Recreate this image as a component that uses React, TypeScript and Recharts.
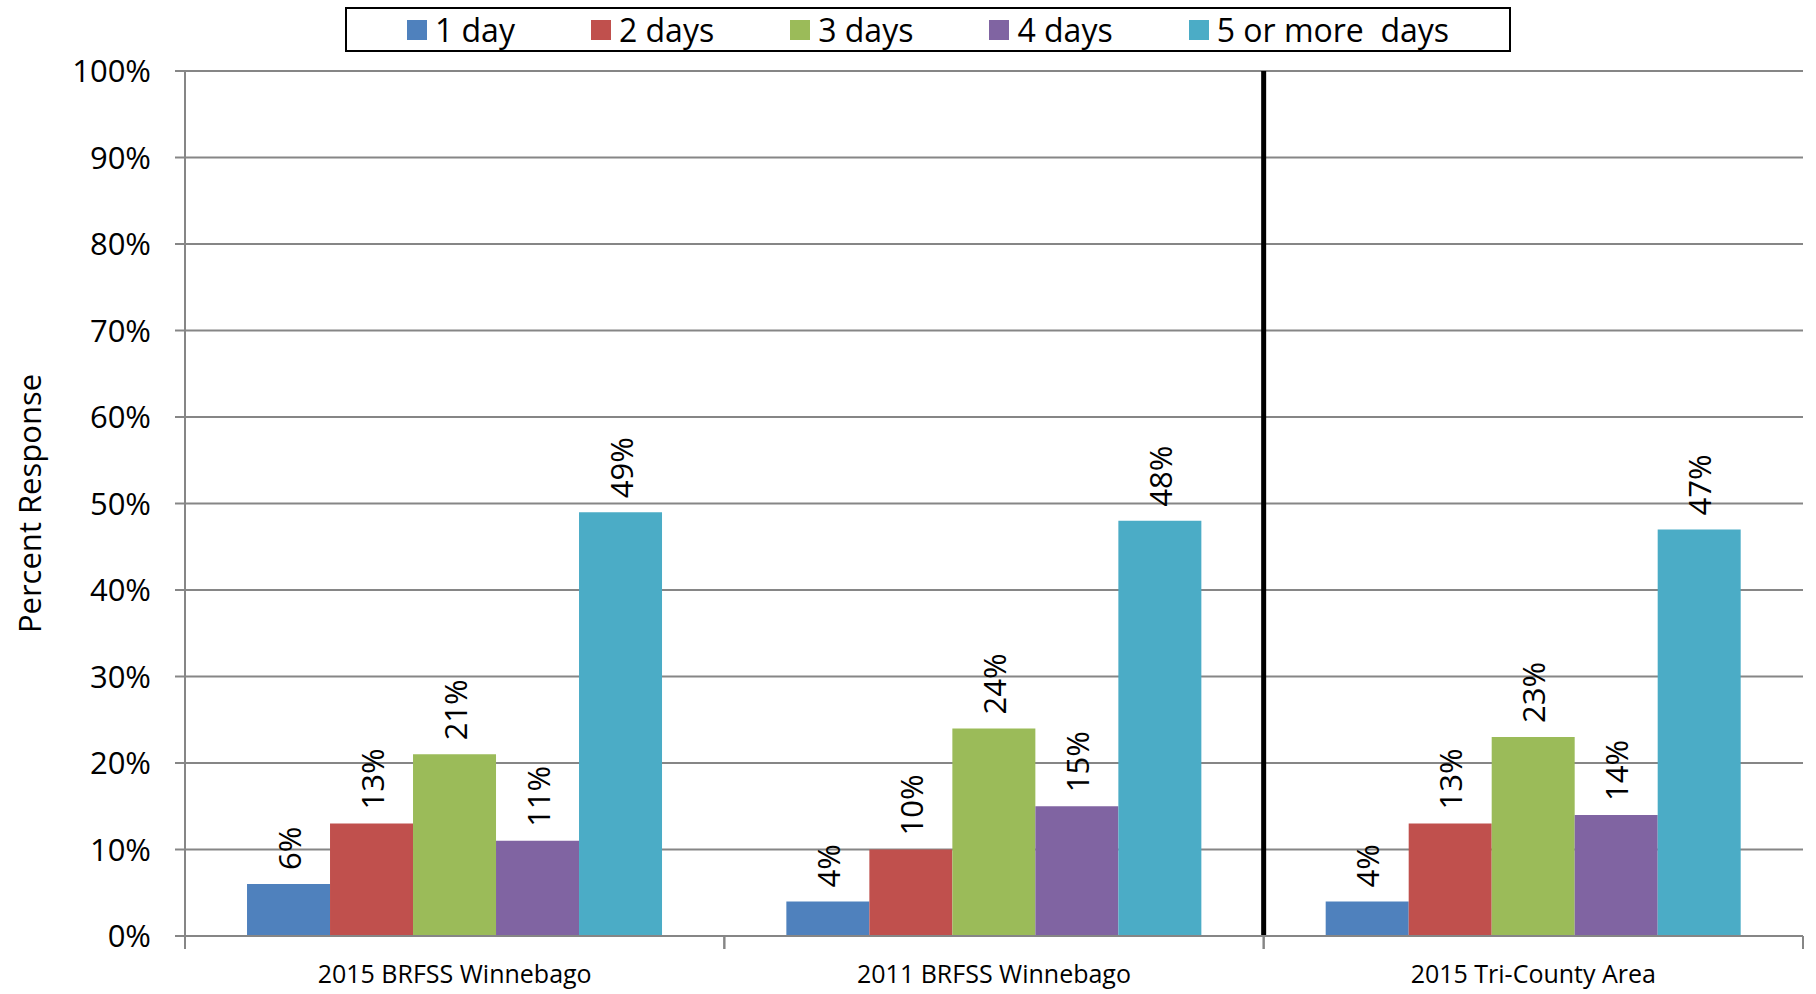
import React from 'react';
import { BarChart, Bar, XAxis, YAxis, CartesianGrid, LabelList, Label, ReferenceLine } from 'recharts';

// categories and series values (percent)
const categories = ['2015 BRFSS Winnebago', '2011 BRFSS Winnebago', '2015 Tri-County Area'];
const oneDay = [6, 4, 4];
const twoDays = [13, 10, 13];
const threeDays = [21, 24, 23];
const fourDays = [11, 15, 14];
const fiveOrMore = [49, 48, 47];
const yTicks = [0, 10, 20, 30, 40, 50, 60, 70, 80, 90, 100];

const series = [
    { key: 'd1', name: '1 day', color: '#4F81BD', values: oneDay },
    { key: 'd2', name: '2 days', color: '#C0504D', values: twoDays },
    { key: 'd3', name: '3 days', color: '#9BBB59', values: threeDays },
    { key: 'd4', name: '4 days', color: '#8064A2', values: fourDays },
    { key: 'd5', name: '5 or more  days', color: '#4BACC6', values: fiveOrMore },
];

const data = categories.map((cat, i) => {
    const row: any = { name: cat };
    series.forEach(s => { row[s.key] = s.values[i]; });
    return row;
});

const FONT = '"Open Sans", "Noto Sans", sans-serif';
const W = 1816;
const H = 994;
const MARGIN = { top: 71, right: 13, bottom: 8, left: 0 };
const Y_AXIS_W = 185;
const X_AXIS_H = 50;
const GRID = '#868686';

const plotWidth = W - MARGIN.left - MARGIN.right - Y_AXIS_W;
const halfBand = plotWidth / categories.length / 2;

const XTick = (props: any) => {
    const { x, y, payload } = props;
    return (
        <g>
            <line x1={x - halfBand} y1={y} x2={x - halfBand} y2={y + 13} stroke={GRID} strokeWidth={2} />
            <line x1={x + halfBand} y1={y} x2={x + halfBand} y2={y + 13} stroke={GRID} strokeWidth={2} />
            <text x={x} y={y + 37} textAnchor="middle" dominantBaseline="central"
                fontFamily={FONT} fontSize={25} fill="#000">
                {payload.value}
            </text>
        </g>
    );
};

const renderValueLabel = (props: any) => {
    const { x, y, width, value } = props;
    const cx = x + width / 2;
    const cy = y - 14;
    return (
        <text x={cx} y={cy} transform={`rotate(-90 ${cx} ${cy})`} textAnchor="start"
            dominantBaseline="central" fontFamily={FONT} fontSize={31} fill="#000">
            {value}%
        </text>
    );
};

const App: React.FC = () => {
    return (
        <div style={{ position: 'absolute', left: 0, top: 0, width: W, height: H, background: 'white' }}>
            {/* legend box */}
            <div style={{
                position: 'absolute',
                left: 345,
                top: 7,
                width: 1166,
                height: 45,
                boxSizing: 'border-box',
                border: '2px solid #000',
                display: 'flex',
                alignItems: 'center',
                justifyContent: 'center',
                gap: 76,
                fontFamily: FONT,
                fontSize: 32,
                color: '#000',
                background: 'white',
                zIndex: 2
            }}>
                {series.map(s => (
                    <div key={s.key} style={{ display: 'flex', alignItems: 'center', whiteSpace: 'pre' }}>
                        <span style={{ width: 20, height: 20, background: s.color, marginRight: 8, display: 'inline-block' }} />
                        <span>{s.name}</span>
                    </div>
                ))}
            </div>

            <BarChart width={W} height={H} data={data} margin={MARGIN} barCategoryGap="11.5%" barGap={0}>
                <CartesianGrid vertical={false} stroke={GRID} strokeWidth={2} />
                <XAxis
                    dataKey="name"
                    height={X_AXIS_H}
                    axisLine={{ stroke: GRID, strokeWidth: 2 }}
                    tickLine={false}
                    tickSize={0}
                    tickMargin={0}
                    tick={<XTick />}
                    interval={0}
                />
                <YAxis
                    width={Y_AXIS_W}
                    domain={[0, 100]}
                    ticks={yTicks}
                    interval={0}
                    tickFormatter={(v: number) => `${v}%`}
                    axisLine={{ stroke: GRID, strokeWidth: 2 }}
                    tickLine={{ stroke: GRID, strokeWidth: 2 }}
                    tickSize={10}
                    tickMargin={24}
                    tick={{ fontFamily: FONT, fontSize: 31, fill: '#000' }}
                >
                    <Label
                        content={(p: any) => {
                            const vb = p.viewBox;
                            const cx = 29;
                            const cy = vb.y + vb.height / 2;
                            return (
                                <text x={cx} y={cy} transform={`rotate(-90 ${cx} ${cy})`} textAnchor="middle"
                                    dominantBaseline="central" fontFamily={FONT} fontSize={31} fill="#000">
                                    Percent Response
                                </text>
                            );
                        }}
                    />
                </YAxis>
                {series.map(s => (
                    <Bar key={s.key} dataKey={s.key} name={s.name} fill={s.color} isAnimationActive={false}>
                        <LabelList dataKey={s.key} content={renderValueLabel} />
                    </Bar>
                ))}
                <ReferenceLine x={categories[1]} position="end" stroke="#000" strokeWidth={5} ifOverflow="visible" />
            </BarChart>
        </div>
    );
};

export default App;
